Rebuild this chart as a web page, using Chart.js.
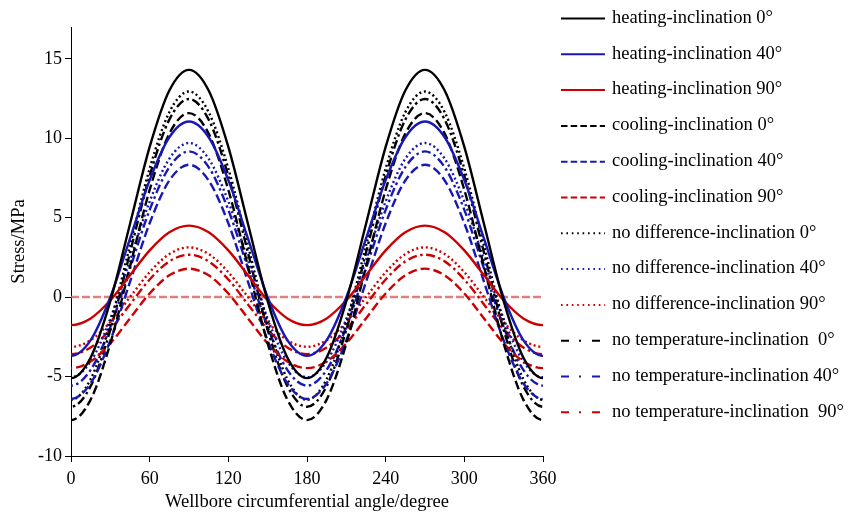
<!DOCTYPE html>
<html><head><meta charset="utf-8">
<script src="https://cdn.jsdelivr.net/npm/chart.js@4.4.1/dist/chart.umd.min.js"></script>
<style>html,body{margin:0;padding:0;background:#fff}</style>
</head><body>
<canvas id="c" width="861" height="520" style="display:block;width:861px;height:520px"></canvas>
<script>
// ---- data (the curves continue periodically past both ends) ----
const angles = [-15,0,15,30,45,60,75,90,105,120,135,150,165,180,195,210,225,240,255,270,285,300,315,330,345,360,375];
const heating0  = [-3.8,-5.1,-3.8,-0.25,4.6,9.45,13.0,14.3,13.0,9.45,4.6,-0.25,-3.8,-5.1,-3.8,-0.25,4.6,9.45,13.0,14.3,13.0,9.45,4.6,-0.25,-3.8,-5.1,-3.8];
const heating40 = [-2.71,-3.7,-2.71,-0.01,3.68,7.36,10.06,11.05,10.06,7.36,3.68,-0.01,-2.71,-3.7,-2.71,-0.01,3.68,7.36,10.06,11.05,10.06,7.36,3.68,-0.01,-2.71,-3.7,-2.71];
const heating90 = [-1.34,-1.76,-1.34,-0.2,1.37,2.94,4.08,4.5,4.08,2.94,1.37,-0.2,-1.34,-1.76,-1.34,-0.2,1.37,2.94,4.08,4.5,4.08,2.94,1.37,-0.2,-1.34,-1.76,-1.34];
const cooling0  = [-6.45,-7.74,-6.45,-2.91,1.92,6.75,10.29,11.58,10.29,6.75,1.92,-2.91,-6.45,-7.74,-6.45,-2.91,1.92,6.75,10.29,11.58,10.29,6.75,1.92,-2.91,-6.45,-7.74,-6.45];
const cooling40 = [-5.42,-6.41,-5.42,-2.73,0.96,4.65,7.34,8.33,7.34,4.65,0.96,-2.73,-5.42,-6.41,-5.42,-2.73,0.96,4.65,7.34,8.33,7.34,4.65,0.96,-2.73,-5.42,-6.41,-5.42];
const cooling90 = [-4.05,-4.47,-4.05,-2.91,-1.34,0.23,1.37,1.79,1.37,0.23,-1.34,-2.91,-4.05,-4.47,-4.05,-2.91,-1.34,0.23,1.37,1.79,1.37,0.23,-1.34,-2.91,-4.05,-4.47,-4.05];
const noDiff0   = [-5.16,-6.46,-5.16,-1.61,3.24,8.09,11.64,12.94,11.64,8.09,3.24,-1.61,-5.16,-6.46,-5.16,-1.61,3.24,8.09,11.64,12.94,11.64,8.09,3.24,-1.61,-5.16,-6.46,-5.16];
const noDiff40  = [-4.05,-5.04,-4.05,-1.36,2.33,6.02,8.71,9.7,8.71,6.02,2.33,-1.36,-4.05,-5.04,-4.05,-1.36,2.33,6.02,8.71,9.7,8.71,6.02,2.33,-1.36,-4.05,-5.04,-4.05];
const noDiff90  = [-2.71,-3.13,-2.71,-1.57,0,1.57,2.71,3.13,2.71,1.57,0,-1.57,-2.71,-3.13,-2.71,-1.57,0,1.57,2.71,3.13,2.71,1.57,0,-1.57,-2.71,-3.13,-2.71];
const noTemp0   = [-5.6,-6.9,-5.6,-2.06,2.79,7.63,11.17,12.47,11.17,7.63,2.79,-2.06,-5.6,-6.9,-5.6,-2.06,2.79,7.63,11.17,12.47,11.17,7.63,2.79,-2.06,-5.6,-6.9,-5.6];
const noTemp40  = [-4.58,-5.57,-4.58,-1.89,1.8,5.49,8.18,9.17,8.18,5.49,1.8,-1.89,-4.58,-5.57,-4.58,-1.89,1.8,5.49,8.18,9.17,8.18,5.49,1.8,-1.89,-4.58,-5.57,-4.58];
const noTemp90  = [-3.17,-3.59,-3.17,-2.03,-0.46,1.11,2.25,2.67,2.25,1.11,-0.46,-2.03,-3.17,-3.59,-3.17,-2.03,-0.46,1.11,2.25,2.67,2.25,1.11,-0.46,-2.03,-3.17,-3.59,-3.17];
const zeroLineX = [0,360];
const zeroLineY = [0,0];
const seriesLabels = [
  'heating-inclination 0°','heating-inclination 40°','heating-inclination 90°',
  'cooling-inclination 0°','cooling-inclination 40°','cooling-inclination 90°',
  'no difference-inclination 0°','no difference-inclination 40°','no difference-inclination 90°',
  'no temperature-inclination  0°','no temperature-inclination 40°','no temperature-inclination  90°'
];
const xTicks = [0,60,120,180,240,300,360];
const yTicks = [-10,-5,0,5,10,15];
const xTitle = 'Wellbore circumferential angle/degree';
const yTitle = 'Stress/MPa';

// ---- styles ----
const BLACK = '#000000', BLUE = '#1818b4', RED = '#cc0000';
const plotDash = {solid: [], dashed: [9,4], dotted: [2,2.8], dashdot: [9,3.5,2.5,3.5]};
const legendDash = {solid: [], dashed: [6.5,3.2], dotted: [1.6,3.8], dashdot: [8,10,2,11]};
const seriesValues = [heating0,heating40,heating90,cooling0,cooling40,cooling90,noDiff0,noDiff40,noDiff90,noTemp0,noTemp40,noTemp90];
const seriesColors = [BLACK,BLUE,RED,BLACK,BLUE,RED,BLACK,BLUE,RED,BLACK,BLUE,RED];
const seriesStyles = ['solid','solid','solid','dashed','dashed','dashed','dotted','dotted','dotted','dashdot','dashdot','dashdot'];

const datasets = seriesValues.map((vals, i) => ({
  label: seriesLabels[i],
  data: angles.map((a, k) => ({x: a, y: vals[k]})),
  borderColor: seriesColors[i],
  backgroundColor: seriesColors[i],
  borderWidth: 2.4,
  borderDash: plotDash[seriesStyles[i]],
  cubicInterpolationMode: 'monotone',
  pointRadius: 0,
  fill: false,
  styleKey: seriesStyles[i]
}));
datasets.push({
  label: 'zero',
  data: zeroLineX.map((a, k) => ({x: a, y: zeroLineY[k]})),
  borderColor: 'rgba(215,95,95,0.8)',
  borderWidth: 2.5,
  borderDash: [8,3],
  pointRadius: 0,
  fill: false,
  hideInLegend: true
});

const FONT = 'Liberation Serif, Times New Roman, serif';

const sideLegend = {
  id: 'sideLegend',
  afterDraw(chart, args, opts) {
    const ctx = chart.ctx;
    ctx.save();
    ctx.font = opts.fontSize + 'px ' + FONT;
    ctx.textBaseline = 'middle';
    ctx.textAlign = 'left';
    let i = 0;
    chart.data.datasets.forEach(ds => {
      if (ds.hideInLegend) return;
      const y = opts.top + i * opts.step;
      ctx.beginPath();
      ctx.setLineDash(legendDash[ds.styleKey]);
      ctx.strokeStyle = ds.borderColor;
      ctx.lineWidth = opts.lineWidth;
      ctx.moveTo(opts.x0, y + 0.5);
      ctx.lineTo(opts.x1, y + 0.5);
      ctx.stroke();
      ctx.setLineDash([]);
      ctx.fillStyle = '#000';
      ctx.fillText(ds.label, opts.textX, y);
      i++;
    });
    ctx.restore();
  }
};

new Chart(document.getElementById('c'), {
  type: 'line',
  data: {datasets},
  plugins: [sideLegend],
  options: {
    responsive: false,
    animation: false,
    devicePixelRatio: 1,
    layout: {padding: {top: 27, right: 318, left: 0, bottom: 0}},
    plugins: {
      legend: {display: false},
      tooltip: {enabled: false},
      sideLegend: {top: 18, step: 35.8, x0: 561, x1: 605, textX: 612, fontSize: 18.5, lineWidth: 2}
    },
    scales: {
      x: {
        type: 'linear', min: 0, max: 360,
        afterBuildTicks: s => { s.ticks = xTicks.map(v => ({value: v})); },
        afterFit: s => { s.height = 64; },
        grid: {display: true, drawOnChartArea: false, drawTicks: true, tickLength: 6, color: '#000', lineWidth: 1},
        border: {display: true, color: '#000', width: 1},
        ticks: {color: '#000', font: {family: FONT, size: 18}, padding: 6, maxRotation: 0, autoSkip: false},
        title: {display: true, text: xTitle, color: '#000', font: {family: FONT, size: 18.5}, padding: {top: 0, bottom: 7}}
      },
      y: {
        type: 'linear', min: -10, max: 17,
        afterBuildTicks: s => { s.ticks = yTicks.map(v => ({value: v})); },
        afterFit: s => { s.width = 71; },
        grid: {display: true, drawOnChartArea: false, drawTicks: true, tickLength: 6, color: '#000', lineWidth: 1},
        border: {display: true, color: '#000', width: 1},
        ticks: {color: '#000', font: {family: FONT, size: 18}, padding: 3},
        title: {display: true, text: yTitle, color: '#000', font: {family: FONT, size: 18.5}, padding: {top: 8, bottom: 0}}
      }
    }
  }
});
</script>
</body></html>
